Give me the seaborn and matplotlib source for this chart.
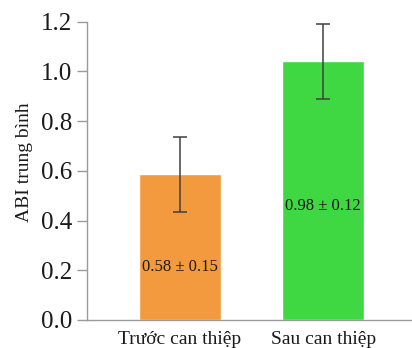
import matplotlib
matplotlib.use("Agg")
import matplotlib.pyplot as plt
import seaborn as sns
import pandas as pd

categories = ["Trước can thiệp", "Sau can thiệp"]
means = [0.586, 1.041]
errors = [0.152, 0.151]
labels = ["0.58 ± 0.15", "0.98 ± 0.12"]
label_y = [0.214, 0.46]
colors = ["#F39A3E", "#40D842"]

sns.set_theme(style="white")
plt.rcParams["font.family"] = ["Liberation Serif", "DejaVu Serif"]

fig = plt.figure(figsize=(4.12, 3.48), dpi=100)
ax = fig.add_axes([0.2104, 0.0805, 0.7896, 0.8572])

df = pd.DataFrame({"cat": categories, "val": means})
sns.barplot(data=df, x="cat", y="val", hue="cat", palette=colors, width=0.57,
            errorbar=None, legend=False, ax=ax, saturation=1)
ax.errorbar(range(len(categories)), means, yerr=errors, fmt="none",
            ecolor="#404040", elinewidth=1.1, capsize=5.3, capthick=1.1)

for i, (t, yy) in enumerate(zip(labels, label_y)):
    ax.text(i, yy, t, ha="center", va="center", fontsize=12, color="#1a1a1a")

ax.set_xlim(-0.65, 1.62)
ax.set_ylim(0, 1.2)
ax.set_yticks([0, 0.2, 0.4, 0.6, 0.8, 1.0, 1.2])
ax.set_yticklabels(["0.0", "0.2", "0.4", "0.6", "0.8", "1.0", "1.2"])
ax.set_xlabel("")
ax.set_ylabel("ABI trung bình", fontsize=14, color="#1a1a1a")
ax.yaxis.set_label_coords(-0.165, 0.53)
for s in ["top", "right"]:
    ax.spines[s].set_visible(False)
for s in ["left", "bottom"]:
    ax.spines[s].set_color("#9a9a9a")
    ax.spines[s].set_linewidth(1.0)
ax.tick_params(axis="y", left=True, length=7, width=1, color="#9a9a9a",
               labelsize=18, labelcolor="#1a1a1a", pad=3.5)
ax.tick_params(axis="x", bottom=False, labelsize=14, labelcolor="#1a1a1a", pad=2)

fig.savefig("out.png", dpi=100)
